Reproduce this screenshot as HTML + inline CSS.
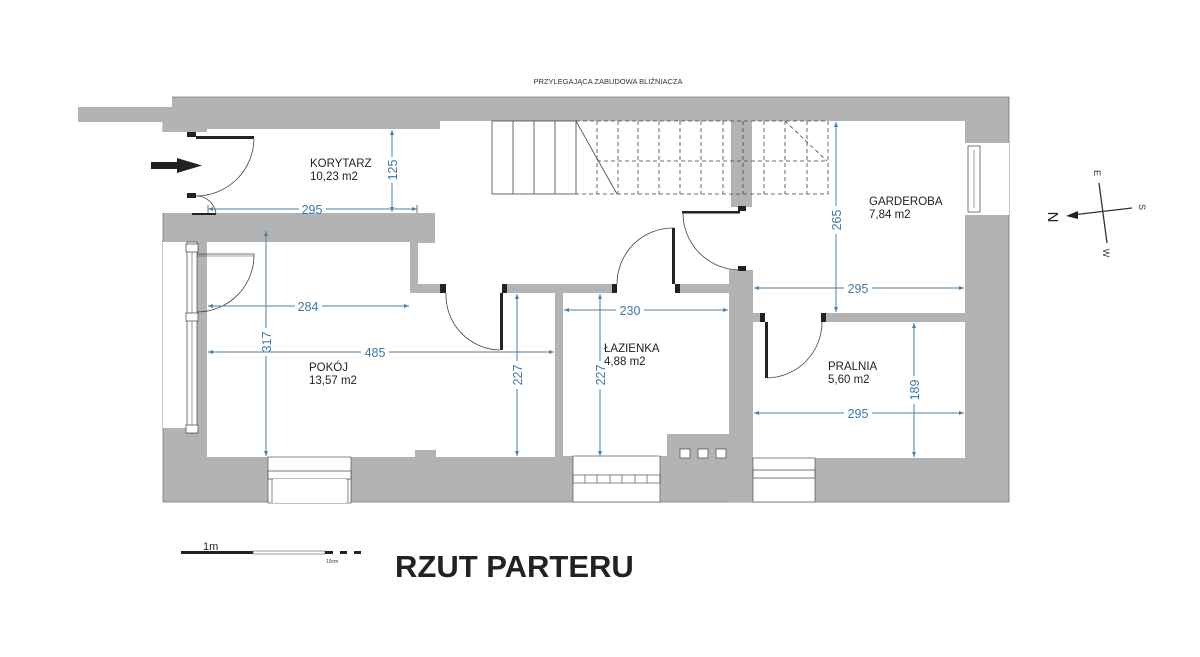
<!DOCTYPE html>
<html><head><meta charset="utf-8"><style>
html,body{margin:0;padding:0;background:#fff;}
svg{display:block;font-family:"Liberation Sans",Arial,sans-serif;}
.d{stroke:#4a80ad;stroke-width:1;fill:none}
.dt{fill:#3f79aa;font-size:12.5px;text-anchor:middle}
.lb{fill:#222;font-size:11.5px}
.wl{fill:#fff;stroke:#555;stroke-width:0.8}
</style></head><body>
<svg width="1200" height="657" viewBox="0 0 1200 657" xmlns="http://www.w3.org/2000/svg">
<defs>
<marker id="a" markerWidth="6" markerHeight="6" refX="5" refY="3" orient="auto-start-reverse"><path d="M0,1 L5,3 L0,5 Z" fill="#4a80ad"/></marker>
</defs>
<text x="608" y="84" font-size="7.5" fill="#333" text-anchor="middle">PRZYLEGAJĄCA ZABUDOWA BLIŹNIACZA</text>

<!-- gray base -->
<rect x="78" y="107" width="100" height="15" fill="#b3b3b3"/>
<rect x="172" y="97" width="837" height="30" fill="#b3b3b3"/>
<rect x="163" y="122" width="846" height="380" fill="#b3b3b3"/>
<path d="M172,97 H1009 V502 H163 V122" fill="none" stroke="#777" stroke-width="0.8"/>

<!-- entry opening -->
<rect x="150" y="132" width="57" height="81" fill="#fff"/>
<rect x="163" y="122" width="24" height="10" fill="#b3b3b3"/>
<!-- corridor / hall white -->
<rect x="207" y="129" width="235" height="84" fill="#fff"/>
<rect x="440" y="121" width="525" height="92" fill="#fff"/>
<rect x="435" y="213" width="295" height="71" fill="#fff"/>
<rect x="418" y="243" width="24" height="41" fill="#fff"/>
<rect x="730" y="213" width="235" height="100" fill="#fff"/>
<rect x="753" y="270" width="212" height="43" fill="#fff"/>
<rect x="446" y="283" width="56" height="11" fill="#fff"/>
<rect x="617" y="283" width="58" height="11" fill="#fff"/>
<rect x="765" y="312" width="57" height="11" fill="#fff"/>
<rect x="731" y="121" width="21" height="86" fill="#b3b3b3"/>
<rect x="738" y="206" width="8" height="5" fill="#222"/>
<rect x="729" y="270" width="24" height="232" fill="#b3b3b3"/>
<rect x="738" y="266" width="8" height="5" fill="#222"/>

<!-- Pokój -->
<rect x="207" y="242" width="203" height="52" fill="#fff"/>
<rect x="207" y="293" width="348" height="164" fill="#fff"/>
<rect x="415" y="450" width="21" height="8" fill="#b3b3b3"/>
<rect x="163" y="242" width="24" height="186" fill="#fff"/>
<rect x="187" y="242" width="10" height="191" class="wl"/>
<line x1="192" y1="246" x2="192" y2="430" stroke="#555" stroke-width="0.6"/>
<rect x="186" y="244" width="12" height="8" class="wl"/>
<rect x="186" y="313" width="12" height="8" class="wl"/>
<rect x="186" y="425" width="12" height="8" class="wl"/>
<path d="M197,254 H254 A57,57 0 0 1 197,312" fill="none" stroke="#444" stroke-width="0.8"/>
<line x1="197" y1="256" x2="254" y2="256" stroke="#444" stroke-width="0.6"/>

<!-- Łazienka -->
<rect x="563" y="293" width="166" height="141" fill="#fff"/>
<rect x="563" y="293" width="104" height="163" fill="#fff"/>
<rect x="667" y="293" width="6" height="99" fill="#fff"/>
<rect x="680" y="449" width="10" height="9" fill="#fff" stroke="#555" stroke-width="0.8"/>
<rect x="698" y="449" width="10" height="9" fill="#fff" stroke="#555" stroke-width="0.8"/>
<rect x="716" y="449" width="10" height="9" fill="#fff" stroke="#555" stroke-width="0.8"/>

<!-- Pralnia -->
<rect x="753" y="322" width="212" height="136" fill="#fff"/>
<rect x="965" y="143" width="44" height="72" fill="#fff"/>
<rect x="968" y="146" width="12" height="66" class="wl"/>
<line x1="974" y1="150" x2="974" y2="208" stroke="#555" stroke-width="0.6"/>

<!-- bottom windows -->
<rect x="268" y="457" width="83" height="46" fill="#fff" stroke="#555" stroke-width="0.7"/>
<rect x="268" y="471" width="83" height="8" class="wl"/>
<rect x="273" y="479" width="73" height="24" fill="#fff"/>
<line x1="272" y1="479" x2="272" y2="502" stroke="#555" stroke-width="0.7"/><line x1="348" y1="479" x2="348" y2="502" stroke="#555" stroke-width="0.7"/>
<rect x="573" y="456" width="87" height="46" fill="#fff" stroke="#555" stroke-width="0.7"/>
<g stroke="#555" stroke-width="0.7" fill="none"><rect x="573" y="475" width="87" height="8"/>
<line x1="585" y1="475" x2="585" y2="483"/><line x1="597" y1="475" x2="597" y2="483"/><line x1="610" y1="475" x2="610" y2="483"/><line x1="622" y1="475" x2="622" y2="483"/><line x1="635" y1="475" x2="635" y2="483"/><line x1="647" y1="475" x2="647" y2="483"/></g>
<rect x="753" y="458" width="62" height="44" fill="#fff" stroke="#555" stroke-width="0.7"/>
<rect x="753" y="470" width="62" height="8" class="wl"/>

<!-- stairs -->
<g stroke="#444" stroke-width="0.8" fill="none">
<rect x="492" y="121" width="84" height="73"/>
<line x1="513" y1="121" x2="513" y2="194"/><line x1="534" y1="121" x2="534" y2="194"/><line x1="555" y1="121" x2="555" y2="194"/>
<line x1="576" y1="121" x2="617" y2="194"/>
</g>
<g stroke="#444" stroke-width="0.8" fill="none" stroke-dasharray="4,3">
<path d="M576,121 H828 V194 H576"/>
<line x1="597" y1="121" x2="597" y2="194"/><line x1="618" y1="121" x2="618" y2="194"/><line x1="638" y1="121" x2="638" y2="194"/><line x1="659" y1="121" x2="659" y2="194"/><line x1="680" y1="121" x2="680" y2="194"/><line x1="701" y1="121" x2="701" y2="194"/><line x1="723" y1="121" x2="723" y2="194"/><line x1="743" y1="121" x2="743" y2="194"/><line x1="764" y1="121" x2="764" y2="194"/><line x1="785" y1="121" x2="785" y2="194"/><line x1="807" y1="121" x2="807" y2="194"/>
<line x1="597" y1="161" x2="828" y2="161"/>
<line x1="785" y1="121" x2="827" y2="161"/>
</g>

<!-- doors -->
<g fill="#222">
<rect x="187" y="132" width="9" height="5"/><rect x="196" y="136" width="58" height="3"/>
<rect x="187" y="193" width="9" height="5"/>
<rect x="192" y="213" width="24" height="2"/>
<rect x="440" y="284" width="6" height="9"/><rect x="502" y="284" width="5" height="9"/><rect x="500" y="293" width="3" height="57"/>
<rect x="612" y="284" width="5" height="9"/><rect x="675" y="284" width="5" height="9"/><rect x="672" y="228" width="3" height="56"/>
<rect x="682" y="211" width="58" height="2.5"/>
<rect x="760" y="313" width="5" height="9"/><rect x="821" y="313" width="5" height="9"/><rect x="765" y="322" width="3" height="56"/>
</g>
<g fill="none" stroke="#444" stroke-width="0.8">
<path d="M254,139 A58,58 0 0 1 196,196"/>
<path d="M196,196 A20,20 0 0 1 216,213"/>
<path d="M446,293 A55,55 0 0 0 500,350"/>
<path d="M674,228 A56,56 0 0 0 617,284"/>
<path d="M683,213 A57,57 0 0 0 740,270"/>
<path d="M767,378 A56,56 0 0 0 822,322"/>
</g>
<path d="M151,162 H177 V158 L202,165.5 L177,173 V169 H151 Z" fill="#222"/>

<!-- dimensions -->
<g class="d">
<line x1="208" y1="209" x2="299" y2="209" marker-start="url(#a)"/><line x1="326" y1="209" x2="417" y2="209" marker-end="url(#a)"/>
<line x1="208" y1="205" x2="208" y2="213"/><line x1="417" y1="205" x2="417" y2="213"/>
<line x1="392" y1="130" x2="392" y2="157" marker-start="url(#a)"/><line x1="392" y1="183" x2="392" y2="212" marker-end="url(#a)"/>
<line x1="208" y1="306" x2="295" y2="306" marker-start="url(#a)"/><line x1="322" y1="306" x2="409" y2="306" marker-end="url(#a)"/>
<line x1="266" y1="231" x2="266" y2="328" marker-start="url(#a)"/><line x1="266" y1="356" x2="266" y2="456" marker-end="url(#a)"/>
<line x1="208" y1="352" x2="361" y2="352" marker-start="url(#a)"/><line x1="389" y1="352" x2="554" y2="352" marker-end="url(#a)"/>
<line x1="517" y1="294" x2="517" y2="361" marker-start="url(#a)"/><line x1="517" y1="389" x2="517" y2="456" marker-end="url(#a)"/>
<line x1="600" y1="294" x2="600" y2="361" marker-start="url(#a)"/><line x1="600" y1="389" x2="600" y2="456" marker-end="url(#a)"/>
<line x1="564" y1="310" x2="616" y2="310" marker-start="url(#a)"/><line x1="644" y1="310" x2="728" y2="310" marker-end="url(#a)"/>
<line x1="836" y1="122" x2="836" y2="206" marker-start="url(#a)"/><line x1="836" y1="234" x2="836" y2="312" marker-end="url(#a)"/>
<line x1="754" y1="288" x2="844" y2="288" marker-start="url(#a)"/><line x1="872" y1="288" x2="964" y2="288" marker-end="url(#a)"/>
<line x1="754" y1="413" x2="844" y2="413" marker-start="url(#a)"/><line x1="872" y1="413" x2="964" y2="413" marker-end="url(#a)"/>
<line x1="914" y1="323" x2="914" y2="376" marker-start="url(#a)"/><line x1="914" y1="404" x2="914" y2="457" marker-end="url(#a)"/>
</g>
<g class="dt">
<text x="312" y="214">295</text>
<text x="308" y="311">284</text>
<text x="375" y="357">485</text>
<text x="630" y="315">230</text>
<text x="858" y="293">295</text>
<text x="858" y="418">295</text>
<text transform="translate(397,170) rotate(-90)">125</text>
<text transform="translate(271,342) rotate(-90)">317</text>
<text transform="translate(522,375) rotate(-90)">227</text>
<text transform="translate(605,375) rotate(-90)">227</text>
<text transform="translate(841,220) rotate(-90)">265</text>
<text transform="translate(919,390) rotate(-90)">189</text>
</g>

<g class="lb">
<text x="310" y="167">KORYTARZ</text><text x="310" y="180">10,23 m2</text>
<text x="869" y="205">GARDEROBA</text><text x="869" y="218">7,84 m2</text>
<text x="309" y="371">POKÓJ</text><text x="309" y="384">13,57 m2</text>
<text x="604" y="352">ŁAZIENKA</text><text x="604" y="365">4,88 m2</text>
<text x="828" y="370">PRALNIA</text><text x="828" y="383">5,60 m2</text>
</g>

<!-- compass -->
<g stroke="#333" stroke-width="1.3" fill="none">
<line x1="1072" y1="215" x2="1132" y2="208"/>
<line x1="1099" y1="183" x2="1107" y2="243"/>
</g>
<path d="M1066,216 L1078,211 L1078,219 Z" fill="#222"/>
<text transform="translate(1048,217) rotate(90)" font-size="15" fill="#222" text-anchor="middle">N</text>
<text transform="translate(1094,173) rotate(90)" font-size="9" fill="#333" text-anchor="middle">E</text>
<text transform="translate(1139,207) rotate(90)" font-size="9" fill="#333" text-anchor="middle">S</text>
<text transform="translate(1103,253) rotate(90)" font-size="9" fill="#333" text-anchor="middle">W</text>

<!-- scale bar -->
<text x="203" y="550" font-size="11" fill="#222">1m</text>
<rect x="181" y="551" width="72" height="3" fill="#222"/>
<rect x="253" y="551" width="72" height="3" fill="#fff" stroke="#555" stroke-width="0.6"/>
<rect x="325" y="551" width="8" height="3" fill="#222"/>
<rect x="340" y="551" width="7" height="3" fill="#222"/>
<rect x="354" y="551" width="7" height="3" fill="#222"/>
<text x="326" y="563" font-size="5" fill="#333">10cm</text>
<text x="395" y="577" font-size="31" font-weight="bold" fill="#222">RZUT PARTERU</text>
</svg>
</body></html>
